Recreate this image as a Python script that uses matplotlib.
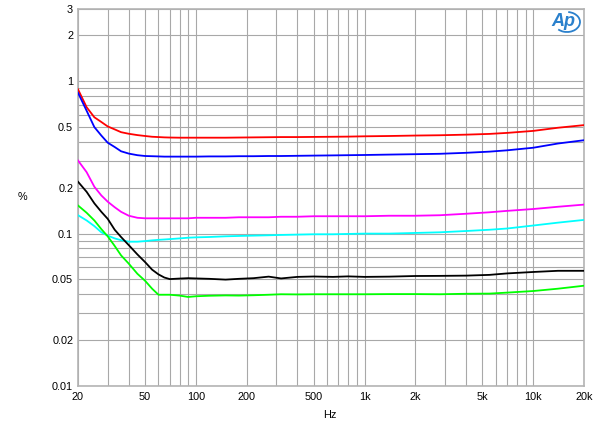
import matplotlib
matplotlib.use("Agg")
import matplotlib.pyplot as plt
from matplotlib.ticker import FixedLocator, LogLocator, NullFormatter
from matplotlib.patches import Arc

plt.rcParams['font.family'] = ['Liberation Sans', 'DejaVu Sans']

freqs = [20, 22.5, 25, 27.5, 30, 33, 36, 40, 45, 50, 55, 60, 65, 70, 80, 90, 100,
         120, 150, 180, 220, 270, 320, 400, 500, 650, 800, 1000, 1400, 2000, 2800,
         4000, 5500, 7000, 10000, 14000, 20000]

red = [0.885, 0.675, 0.58, 0.54, 0.505, 0.483, 0.463, 0.452, 0.443, 0.437, 0.432, 0.43,
       0.428, 0.427, 0.426, 0.426, 0.426, 0.426, 0.426, 0.427, 0.428, 0.429, 0.43, 0.43,
       0.431, 0.432, 0.433, 0.435, 0.437, 0.44, 0.442, 0.446, 0.451, 0.458, 0.472, 0.495,
       0.515]
blue = [0.84, 0.64, 0.50, 0.44, 0.395, 0.37, 0.347, 0.335, 0.327, 0.323, 0.322, 0.321,
        0.32, 0.32, 0.32, 0.32, 0.32, 0.321, 0.321, 0.322, 0.322, 0.323, 0.323, 0.324,
        0.325, 0.326, 0.327, 0.328, 0.33, 0.332, 0.334, 0.339, 0.345, 0.352, 0.366, 0.39,
        0.41]
magenta = [0.302, 0.253, 0.203, 0.178, 0.162, 0.149, 0.139, 0.131, 0.127, 0.126, 0.126,
           0.126, 0.126, 0.126, 0.126, 0.126, 0.127, 0.127, 0.127, 0.128, 0.128, 0.128,
           0.129, 0.129, 0.13, 0.13, 0.13, 0.13, 0.131, 0.131, 0.132, 0.135, 0.138, 0.141,
           0.145, 0.15, 0.155]
cyan = [0.132, 0.122, 0.112, 0.102, 0.097, 0.093, 0.0905, 0.0885, 0.0885, 0.0893, 0.0903,
        0.091, 0.0915, 0.092, 0.093, 0.094, 0.0945, 0.095, 0.096, 0.0965, 0.097, 0.0975,
        0.098, 0.0985, 0.099, 0.099, 0.0995, 0.1, 0.1, 0.101, 0.102, 0.104, 0.106, 0.108,
        0.113, 0.118, 0.123]
black = [0.219, 0.188, 0.158, 0.139, 0.125, 0.106, 0.095, 0.084, 0.073, 0.065, 0.058,
         0.054, 0.0515, 0.0503, 0.0507, 0.051, 0.0508, 0.0505, 0.0499, 0.0505, 0.051,
         0.0522, 0.0508, 0.052, 0.0523, 0.052, 0.0524, 0.052, 0.0522, 0.0527, 0.0528,
         0.053, 0.0536, 0.0548, 0.056, 0.057, 0.057]
green = [0.153, 0.137, 0.122, 0.107, 0.096, 0.083, 0.072, 0.0635, 0.0545, 0.049, 0.0435,
         0.0397, 0.0397, 0.0397, 0.0392, 0.0384, 0.0388, 0.0391, 0.0393, 0.0392, 0.0394,
         0.0397, 0.04, 0.0399, 0.04, 0.04, 0.04, 0.04, 0.0401, 0.0401, 0.04, 0.0403,
         0.0404, 0.041, 0.042, 0.0435, 0.0455]

series = [(red, '#ff0000'), (blue, '#0000ff'), (magenta, '#ff00ff'),
          (cyan, '#00ffff'), (black, '#000000'), (green, '#00ff00')]

xticks = [20, 50, 100, 200, 500, 1000, 2000, 5000, 10000, 20000]
xticklabels = ['20', '50', '100', '200', '500', '1k', '2k', '5k', '10k', '20k']
yticks = [0.01, 0.02, 0.05, 0.1, 0.2, 0.5, 1, 2, 3]
yticklabels = ['0.01', '0.02', '0.05', '0.1', '0.2', '0.5', '1', '2', '3']

fig = plt.figure(figsize=(6, 4.26), dpi=100)
ax = fig.add_axes([78 / 600, 1 - 386 / 426, (584 - 78) / 600, (386 - 8.5) / 426])

for vals, col in series:
    ax.plot(freqs, vals, color=col, lw=1.3, zorder=3, solid_joinstyle='round')

ax.set_xscale('log')
ax.set_yscale('log')
ax.set_xlim(20, 20000)
ax.set_ylim(0.01, 3)

ax.xaxis.set_major_locator(FixedLocator(xticks))
ax.set_xticklabels(xticklabels)
ax.xaxis.set_minor_locator(LogLocator(base=10, subs=range(2, 10)))
ax.xaxis.set_minor_formatter(NullFormatter())
ax.yaxis.set_major_locator(FixedLocator(yticks))
ax.set_yticklabels(yticklabels)
ax.yaxis.set_minor_locator(LogLocator(base=10, subs=range(1, 10)))
ax.yaxis.set_minor_formatter(NullFormatter())

ax.grid(True, which='both', color='#a8a8a8', lw=0.8)
ax.tick_params(which='both', length=0, labelsize=7.8, colors='#000000')
ax.tick_params(axis='x', pad=4)
ax.tick_params(axis='y', pad=3.5)
for s in ax.spines.values():
    s.set_color('#b4b4b4')
    s.set_linewidth(1.2)

fig.text(22.5 / 600, 1 - 197 / 426, '%', ha='center', va='center', fontsize=7.8)
fig.text(330 / 600, 1 - 415 / 426, 'Hz', ha='center', va='center', fontsize=7.8)

# AP logo
logo_col = '#2a80cc'
fig.text(563 / 600, 1 - 22 / 426, 'Ap', ha='center', va='center', fontsize=13,
         fontstyle='italic', color=logo_col, fontweight='bold')
arc = Arc((567 / 600, 1 - 22 / 426), 26 / 600, 20 / 426, theta1=-130, theta2=85,
          transform=fig.transFigure, color=logo_col, lw=1.3)
fig.add_artist(arc)

fig.savefig('out.png', dpi=100)
